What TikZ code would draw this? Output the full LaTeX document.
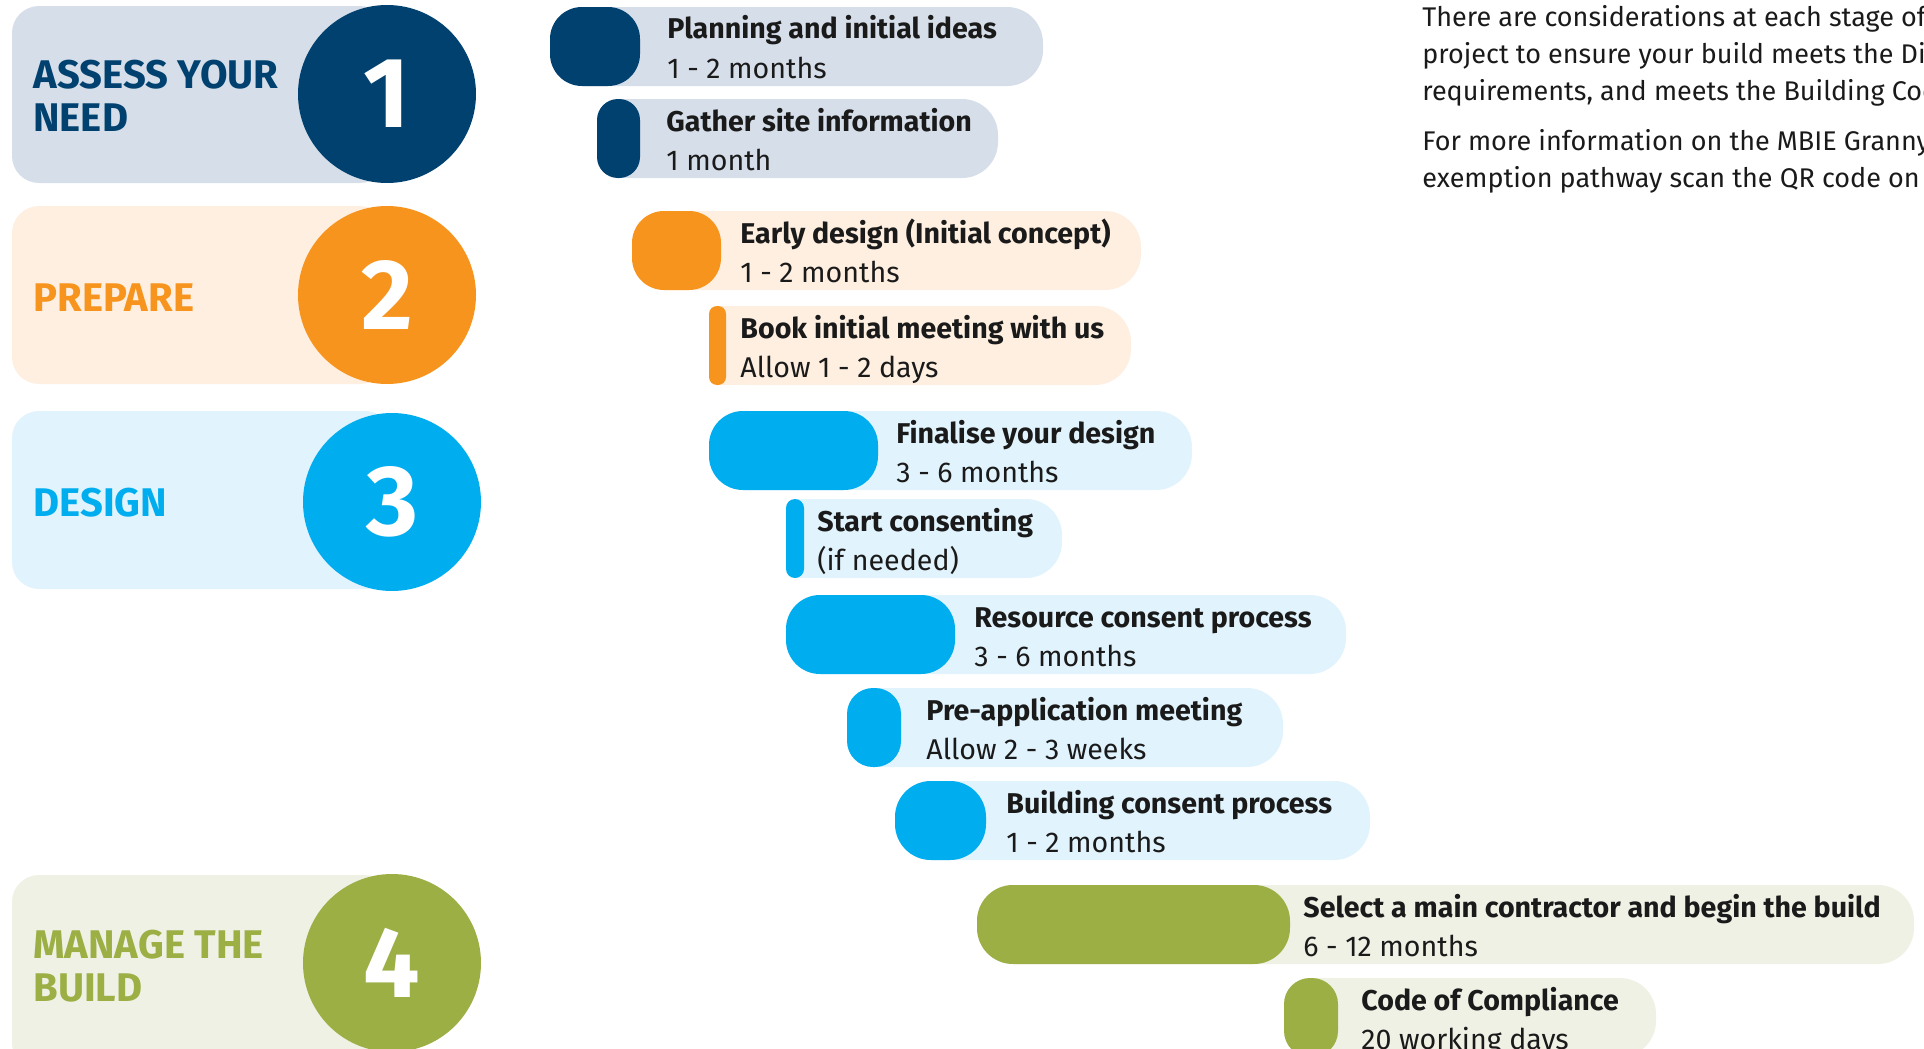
\documentclass[tikz,border=0pt]{standalone}
\usepackage{fontspec}
\setmainfont{Fira Sans}
\usepackage{tikz}
\usetikzlibrary{positioning}

\definecolor{navy}{HTML}{00416F}
\definecolor{navylt}{HTML}{D6DEEA}
\definecolor{orng}{HTML}{F7941E}
\definecolor{ornglt}{HTML}{FEEFE0}
\definecolor{sky}{HTML}{00AEEF}
\definecolor{skylt}{HTML}{E1F3FC}
\definecolor{leaf}{HTML}{9BAF45}
\definecolor{leaflt}{HTML}{EFF1E5}
\definecolor{ink}{HTML}{1A1A1A}

\begin{document}
\begin{tikzpicture}[x=0.5pt, y=-0.5pt,
    panel/.style={rounded corners=13.5pt},
    num/.style={circle, minimum size=89pt, inner sep=0pt, text=white, font=\bfseries\fontsize{50}{50}\selectfont},
    stage/.style={anchor=base west, inner sep=0pt, font=\bfseries\fontsize{20}{22}\selectfont},
    taskname/.style={anchor=base west, inner sep=0pt, text=ink, font=\bfseries\fontsize{14.3}{16}\selectfont},
    taskdur/.style={anchor=base west, inner sep=0pt, text=ink, font=\fontsize{14.3}{16}\selectfont},
    note/.style={anchor=base west, inner sep=0pt, align=left, text=ink, font=\fontsize{13.5}{18.5}\selectfont}]

    \useasboundingbox (0,0) rectangle (1924,1049);
    \clip (0,0) rectangle (1924,1049);

    % stage panels
    \fill[navylt, panel] (12,6) rectangle (387,183);
    \fill[ornglt, panel] (12,206) rectangle (387,384);
    \fill[skylt, panel] (12,411) rectangle (392,589);
    \fill[leaflt, panel] (12,875) rectangle (392,1070);

    \node[num, fill=navy] (num1) at (387,94) {1};
    \node[num, fill=orng] (num2) at (387,295) {2};
    \node[num, fill=sky] (num3) at (392,502) {3};
    \node[num, fill=leaf] (num4) at (392,963) {4};

    \node[stage, text=navy] (assess) at (33,88) {ASSESS YOUR};
    \node[stage, text=navy] (need) at (33,131) {NEED};
    \node[stage, text=orng] (prepare) at (33,311) {PREPARE};
    \node[stage, text=sky] (design) at (33,516) {DESIGN};
    \node[stage, text=leaf] (manage) at (33,958) {MANAGE THE};
    \node[stage, text=leaf] (build) at (33,1001) {BUILD};

    % timeline bars
    \foreach \xa/\xd/\xb/\yt/\rd/\cd/\cl/\tx/\ttl/\tm [count=\i] in {
        550/640/1043/7/32/navy/navylt/667/{Planning and initial ideas}/{1 - 2 months},
        597/640/998/99/21/navy/navylt/666/{Gather site information}/{1 month},
        632/721/1141/211/32/orng/ornglt/740/{Early design (Initial concept)}/{1 - 2 months},
        709/726/1131/306/8/orng/ornglt/740/{Book initial meeting with us}/{Allow 1 - 2 days},
        709/878/1192/411/34/sky/skylt/896/{Finalise your design}/{3 - 6 months},
        786/804/1062/499/9/sky/skylt/817/{Start consenting}/{(if needed)},
        786/955/1346/595/34/sky/skylt/974/{Resource consent process}/{3 - 6 months},
        847/901/1283/688/26/sky/skylt/926/{Pre-application meeting}/{Allow 2 - 3 weeks},
        895/986/1370/781/36/sky/skylt/1006/{Building consent process}/{1 - 2 months},
        977/1290/1914/885/36/leaf/leaflt/1303/{Select a main contractor and begin the build}/{6 - 12 months},
        1284/1338/1656/978/26/leaf/leaflt/1361/{Code of Compliance}/{20 working days}}{
        \fill[\cl, rounded corners=18pt] (\xa,\yt) rectangle (\xb,\yt+79);
        \fill[\cl] (\xa+\rd,\yt) rectangle (\xb-40,\yt+79);
        \fill[\cd, rounded corners=\rd*0.5pt] (\xa,\yt) rectangle (\xd,\yt+79);
        \node[taskname] (task\i) at (\tx,\yt+32) {\ttl};
        \node[taskdur] (dur\i) at (\tx,\yt+71) {\tm};
    }

    % side notes (anchored on the last line)
    \node[note] (note1) at (1422,100) {There are considerations at each stage of\\
        project to ensure your build meets the Dis\\
        requirements, and meets the Building Cod};
    \node[note] (note2) at (1422,187) {For more information on the MBIE Granny\\
        exemption pathway scan the QR code on p};
\end{tikzpicture}
\end{document}
